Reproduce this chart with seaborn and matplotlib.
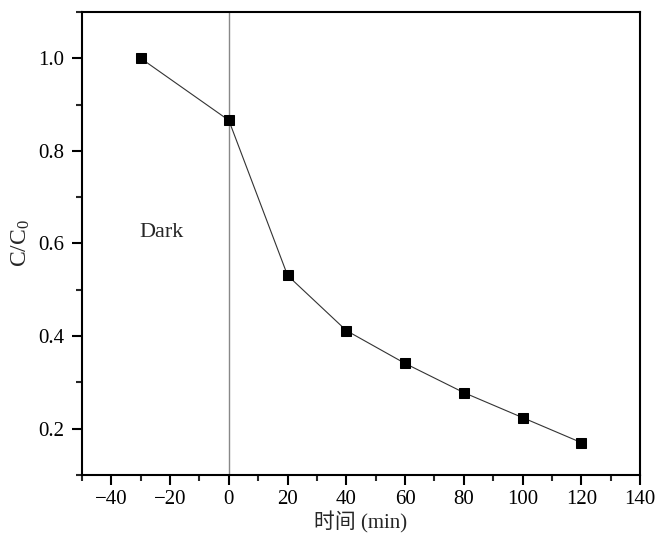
import matplotlib
matplotlib.use("Agg")
import matplotlib.pyplot as plt
import seaborn as sns
import pandas as pd
from matplotlib.ticker import MultipleLocator

time_min = [-30, 0, 20, 40, 60, 80, 100, 120]
c_ratio = [1.0, 0.866, 0.531, 0.412, 0.341, 0.278, 0.224, 0.170]
xticks = [-40, -20, 0, 20, 40, 60, 80, 100, 120, 140]
yticks = [0.2, 0.4, 0.6, 0.8, 1.0]

sns.set_theme(style="ticks")
plt.rcParams['font.family'] = ['Liberation Serif', 'Noto Sans CJK SC']
plt.rcParams['mathtext.fontset'] = 'custom'
plt.rcParams['mathtext.rm'] = 'Liberation Serif'
plt.rcParams['mathtext.it'] = 'Liberation Serif'

df = pd.DataFrame({"t": time_min, "c": c_ratio})

fig = plt.figure(figsize=(6.56, 5.36), dpi=100)
ax = fig.add_axes([82/656, 61/536, 558/656, 463/536])

ax.axvline(0, color="#888888", lw=1.0, zorder=1)
sns.lineplot(data=df, x="t", y="c", ax=ax, color="#333333", lw=0.8,
             marker="s", markersize=7.5, markerfacecolor="black",
             markeredgecolor="black", zorder=3)

ax.text(-23, 0.624, "Dark", fontsize=16, ha="center", va="center")

ax.set_xlim(-50, 140)
ax.set_ylim(0.1, 1.1)
ax.set_xticks(xticks)
ax.set_xticklabels([str(v).replace("-", "\u2212") for v in xticks])
ax.set_yticks(yticks)
ax.set_yticklabels([f"{v:.1f}" for v in yticks])
ax.xaxis.set_minor_locator(MultipleLocator(10))
ax.yaxis.set_minor_locator(MultipleLocator(0.1))
ax.tick_params(which="major", direction="out", length=7, width=1.5,
               labelsize=15, colors="black", top=False, right=False, pad=4)
ax.tick_params(which="minor", direction="out", length=4, width=1.5,
               top=False, right=False)
ax.tick_params(axis="y", which="major", pad=6)
for s in ax.spines.values():
    s.set_linewidth(1.5)
    s.set_color("black")

ax.set_xlabel("时间 (min)", fontsize=15, va="center")
ax.xaxis.set_label_coords(0.5, -0.103)
ax.set_ylabel(r"C/C$_\mathregular{0}$", fontsize=17, va="center")
ax.yaxis.set_label_coords(-0.11, 0.5)

fig.savefig("out.png", dpi=100)
